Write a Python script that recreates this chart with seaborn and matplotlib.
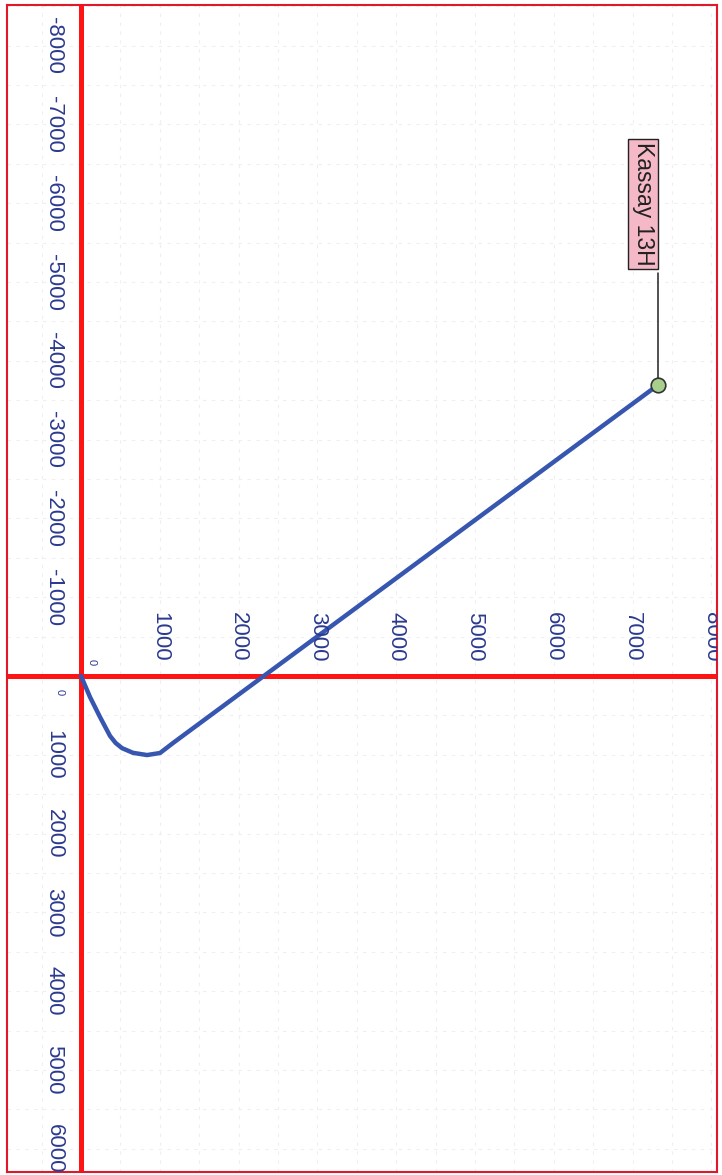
import numpy as np
import pandas as pd
import matplotlib
matplotlib.use("Agg")
import matplotlib.pyplot as plt
import seaborn as sns

# well path (plan view, chart drawn rotated 90 degrees)
north = [0, 114, 241, 368, 440, 520, 660, 838, 1003, 1168, 7322]
east = [0, 266, 520, 760, 850, 915, 975, 1003, 977, 850, -3693]
well_name = "Kassay 13H"

north_ticks = [1000, 2000, 3000, 4000, 5000, 6000, 7000, 8000]
east_ticks = [-8000, -7000, -6000, -5000, -4000, -3000, -2000, -1000,
              1000, 2000, 3000, 4000, 5000, 6000]

df = pd.DataFrame({"north": north, "east": east})

sns.set_theme(style="white")
plt.rcParams['font.family'] = ['Liberation Sans', 'DejaVu Sans']

fig = plt.figure(figsize=(7.22, 11.75), dpi=100)
ax = fig.add_axes([7 / 722, 3 / 1175, 710 / 722, 1167 / 1175])

ax.set_xlim(-939, 8071)
ax.set_ylim(6294, -8515)

# faint dashed grid
for v in np.arange(-500, 8100, 500):
    ax.axvline(v, color="#efefef", lw=0.8, ls=(0, (3, 5)), zorder=0)
for v in np.arange(-8500, 6300, 500):
    ax.axhline(v, color="#efefef", lw=0.8, ls=(0, (3, 5)), zorder=0)

# zero axis lines
ax.axvline(0, color="#ff1414", lw=3.6, zorder=2)
ax.axhline(0, color="#ff1414", lw=3.6, zorder=2)

# well path
sns.lineplot(data=df, x="north", y="east", sort=False, estimator=None,
             color="#3656b0", lw=3.2, ax=ax, zorder=3)

# label leader and end marker
ax.plot([north[-1], north[-1]], [east[-1], -5114], color="#222222", lw=1.1, zorder=3)
ax.scatter([north[-1]], [east[-1]], s=110, color="#a9cf8c", edgecolor="#333333",
           linewidth=1.2, zorder=4)
ax.text(north[-1] - 190, -5990, well_name, rotation=-90, ha="center", va="center",
        fontsize=16.5, color="#222222", zorder=5,
        bbox=dict(boxstyle="square,pad=0.15", fc="#f4b8c6", ec="#222222", lw=1))

# tick labels along the zero lines
tick_col = "#2c3a8e"
for v in north_ticks:
    ax.text(v, -495, str(v), rotation=-90, ha="center", va="center",
            fontsize=16, color=tick_col, clip_on=True)
for v in east_ticks:
    ax.text(-343, v, str(v), rotation=-90, ha="center", va="center",
            fontsize=16, color=tick_col, clip_on=True)
ax.text(140, -180, "0", rotation=-90, ha="center", va="center", fontsize=8, color=tick_col)
ax.text(-265, 200, "0", rotation=-90, ha="center", va="center", fontsize=8, color=tick_col)

ax.set_xticks([])
ax.set_yticks([])
ax.set_xlabel("")
ax.set_ylabel("")
for s in ax.spines.values():
    s.set_color("#e0182a")
    s.set_linewidth(1.5)

fig.savefig("out.png", dpi=100)
